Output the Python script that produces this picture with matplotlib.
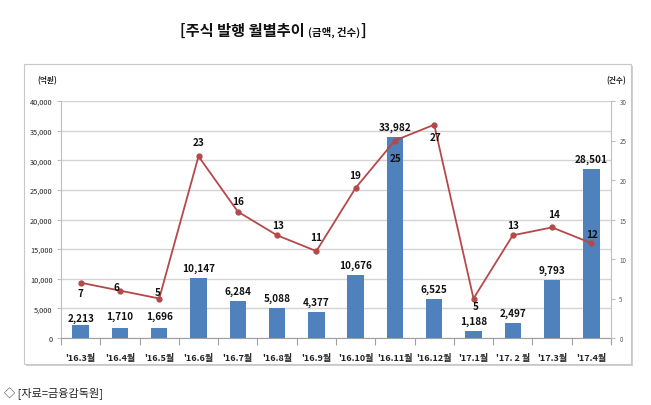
import matplotlib
matplotlib.use("Agg")
import matplotlib.pyplot as plt
from matplotlib.patches import Rectangle
import numpy as np

plt.rcParams['font.family'] = ['Noto Sans CJK KR', 'DejaVu Sans']

categories = ["'16.3월", "'16.4월", "'16.5월", "'16.6월", "'16.7월", "'16.8월", "'16.9월",
              "'16.10월", "'16.11월", "'16.12월", "'17.1월", "'17. 2 월", "'17.3월", "'17.4월"]
amounts = [2213, 1710, 1696, 10147, 6284, 5088, 4377, 10676, 33982, 6525, 1188, 2497, 9793, 28501]
counts = [7, 6, 5, 23, 16, 13, 11, 19, 25, 27, 5, 13, 14, 12]
left_ticks = [0, 5000, 10000, 15000, 20000, 25000, 30000, 35000, 40000]
right_ticks = [0, 5, 10, 15, 20, 25, 30]

# label offsets for line values (pixels, dx, dy up positive)
count_offsets = [(0, -10), (-3, 4), (-2, 7), (0, 14), (0, 11), (1, 10), (0, 14),
                 (-1, 13), (1, -17), (1, -12), (2, -8), (0, 10), (2, 13), (1, 9)]
amount_offsets = [2, 7, 7, 5, 5, 5, 5, 5, 5, 5, 5, 5, 5, 5]

W, H = 651, 406
fig = plt.figure(figsize=(W / 100, H / 100), dpi=100)

# panel box
fig.patches.append(Rectangle((26 / W, 1 - 367 / H), 607 / W, 300 / H, transform=fig.transFigure,
                             facecolor='#D0D0D0', edgecolor='none', zorder=-2))
fig.patches.append(Rectangle((24 / W, 1 - 365 / H), 607 / W, 300 / H, transform=fig.transFigure,
                             facecolor='white', edgecolor='#C8C8C8', linewidth=0.8, zorder=-1))

ax = fig.add_axes([61 / W, 1 - 339 / H, (611 - 61) / W, (339 - 102) / H])
ax.set_facecolor('none')
x = np.arange(len(categories))
bar_color = '#4F81BD'
line_color = '#B5494A'

ax.bar(x, amounts, width=0.42, color=bar_color, zorder=2)
ax.set_ylim(0, 40000)
ax.set_xlim(-0.5, len(categories) - 0.5)
ax.set_yticks(left_ticks)
ax.set_yticklabels([f"{v:,}" for v in left_ticks], fontsize=5.3, color='#222222')
ax.yaxis.grid(True, color='#D3D3D3', linewidth=1.0, zorder=0)
ax.set_axisbelow(True)
ax.tick_params(axis='y', length=3, color='#BFBFBF', pad=3)
ax.set_xticks(x)
ax.set_xticklabels(categories, fontsize=6.5, fontweight='bold', color='#222222')
ax.tick_params(axis='x', length=0, pad=11)
ax.set_xticks(np.arange(-0.5, len(categories), 1), minor=True)
ax.tick_params(axis='x', which='minor', length=5, color='#A0A0A0', width=0.8)
ax.spines['top'].set_visible(False)
ax.spines['left'].set_color('#BFBFBF')
ax.spines['right'].set_visible(False)
ax.spines['bottom'].set_color('#A0A0A0')

for xi, v, dy in zip(x, amounts, amount_offsets):
    ax.annotate(f"{v:,}", (xi, v), xytext=(0, dy * 0.72), textcoords='offset points',
                ha='center', va='bottom', fontsize=7.2, fontweight='bold', color='#111111', zorder=5)

ax2 = ax.twinx()
ax2.set_ylim(0, 30)
ax2.plot(x, counts, color=line_color, linewidth=1.3, marker='o', markersize=3.5,
         markerfacecolor=line_color, markeredgecolor=line_color, zorder=4)
ax2.set_yticks(right_ticks)
ax2.set_yticklabels([str(v) for v in right_ticks], fontsize=4.5, color='#555555')
ax2.tick_params(axis='y', length=3, color='#BFBFBF', pad=3)
for s in ['top', 'left', 'bottom']:
    ax2.spines[s].set_visible(False)
ax2.spines['right'].set_color('#BFBFBF')

for xi, v, (dx, dy) in zip(x, counts, count_offsets):
    ax2.annotate(str(v), (xi, v), xytext=(dx * 0.72, dy * 0.72), textcoords='offset points',
                 ha='center', va='center', fontsize=7.2, fontweight='bold', color='#111111', zorder=6)

fig.text(47 / W, 1 - 81 / H, '(억원)', fontsize=5.5, fontweight='bold', ha='center', va='center', color='#222222')
fig.text(616 / W, 1 - 81 / H, '(건수)', fontsize=5.5, fontweight='bold', ha='center', va='center', color='#222222')

# title in pieces
fig.canvas.draw()
r = fig.canvas.get_renderer()
xpos = 180
ty = 1 - 36 / H
pieces = [("[주식 발행 월별추이 ", 11), ("(금액, 건수)", 7.5), ("]", 11)]
for txt, fs in pieces:
    t = fig.text(xpos / W, ty, txt, fontsize=fs, fontweight='bold', ha='left', va='baseline', color='#111111')
    bb = t.get_window_extent(renderer=r)
    xpos += bb.width

fig.text(4 / W, 1 - 394 / H, '◇ [자료=금융감독원]', fontsize=8, ha='left', va='center', color='#222222')

fig.savefig('out.png', dpi=100)
